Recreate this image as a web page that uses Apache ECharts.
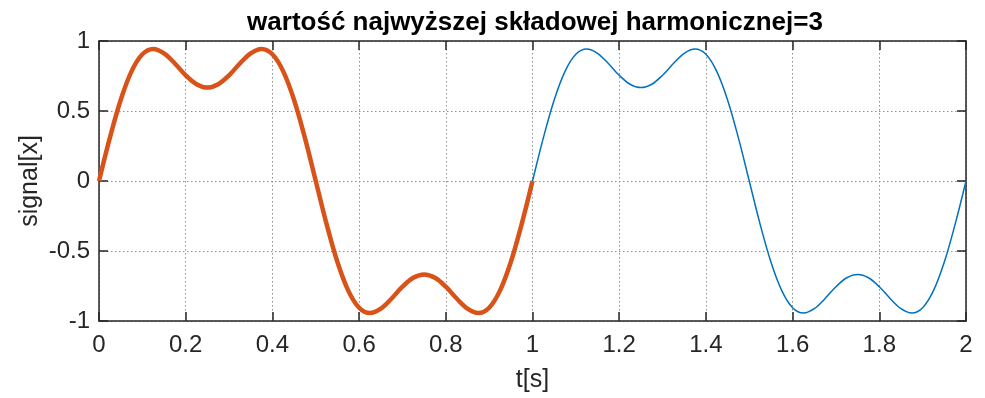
<!DOCTYPE html>
<html><head><meta charset="utf-8">
<script src="https://cdn.jsdelivr.net/npm/echarts@6/dist/echarts.min.js"></script>
<style>html,body{margin:0;padding:0;background:#fff}#c{width:985px;height:398px}</style>
</head><body><div id="c"></div>
<script>
var titleText = 'wartość najwyższej składowej harmonicznej=3';
var xLabel = 't[s]';
var yLabel = 'signal[x]';
var xTicks = [0,0.2,0.4,0.6,0.8,1,1.2,1.4,1.6,1.8,2];
var yTicks = [-1,-0.5,0,0.5,1];
var tFirst = [0,0.025,0.05,0.075,0.1,0.125,0.15,0.175,0.2,0.225,0.25,0.275,0.3,0.325,0.35,0.375,0.4,0.425,0.45,0.475,0.5,0.525,0.55,0.575,0.6,0.625,0.65,0.675,0.7,0.725,0.75,0.775,0.8,0.825,0.85,0.875,0.9,0.925,0.95,0.975,1];
var ySignalFirst = [0,0.308,0.579,0.783,0.905,0.943,0.912,0.839,0.755,0.691,0.667,0.691,0.755,0.839,0.912,0.943,0.905,0.783,0.579,0.308,0,-0.308,-0.579,-0.783,-0.905,-0.943,-0.912,-0.839,-0.755,-0.691,-0.667,-0.691,-0.755,-0.839,-0.912,-0.943,-0.905,-0.783,-0.579,-0.308,0];
var tFull = [0,0.025,0.05,0.075,0.1,0.125,0.15,0.175,0.2,0.225,0.25,0.275,0.3,0.325,0.35,0.375,0.4,0.425,0.45,0.475,0.5,0.525,0.55,0.575,0.6,0.625,0.65,0.675,0.7,0.725,0.75,0.775,0.8,0.825,0.85,0.875,0.9,0.925,0.95,0.975,1,1.025,1.05,1.075,1.1,1.125,1.15,1.175,1.2,1.225,1.25,1.275,1.3,1.325,1.35,1.375,1.4,1.425,1.45,1.475,1.5,1.525,1.55,1.575,1.6,1.625,1.65,1.675,1.7,1.725,1.75,1.775,1.8,1.825,1.85,1.875,1.9,1.925,1.95,1.975,2];
var ySignalFull = [0,0.308,0.579,0.783,0.905,0.943,0.912,0.839,0.755,0.691,0.667,0.691,0.755,0.839,0.912,0.943,0.905,0.783,0.579,0.308,0,-0.308,-0.579,-0.783,-0.905,-0.943,-0.912,-0.839,-0.755,-0.691,-0.667,-0.691,-0.755,-0.839,-0.912,-0.943,-0.905,-0.783,-0.579,-0.308,0,0.308,0.579,0.783,0.905,0.943,0.912,0.839,0.755,0.691,0.667,0.691,0.755,0.839,0.912,0.943,0.905,0.783,0.579,0.308,0,-0.308,-0.579,-0.783,-0.905,-0.943,-0.912,-0.839,-0.755,-0.691,-0.667,-0.691,-0.755,-0.839,-0.912,-0.943,-0.905,-0.783,-0.579,-0.308,0];

function pairs(xs, ys){ return xs.map(function(x,i){return [x, ys[i]];}); }
var FONT = '"Liberation Sans", Arial, sans-serif';
var axisCol = '#262626';
var gridLine = {show:true, lineStyle:{color:'#8f8f8f', width:1, type:[1.5,2.5]}};
var chart = echarts.init(document.getElementById('c'), null, {renderer:'canvas'});
chart.setOption({
  animation:false,
  backgroundColor:'#fff',
  title:{text:titleText, left:530, top:5, textAlign:'center',
    textStyle:{fontFamily:FONT, fontWeight:'bold', fontSize:26, color:'#000'}},
  grid:{left:99, right:19, top:41, bottom:76, containLabel:false},
  xAxis:[
    {type:'value', min:0, max:2, interval:0.2, position:'bottom',
     name:xLabel, nameLocation:'middle', nameGap:47, nameMoveOverlap:false,
     nameTextStyle:{fontFamily:FONT, fontSize:25, color:axisCol},
     axisLine:{show:true, onZero:false, lineStyle:{color:axisCol, width:1.5}},
     axisTick:{show:true, inside:true, length:9, lineStyle:{color:axisCol, width:1.5}},
     axisLabel:{fontFamily:FONT, fontSize:24, color:axisCol, margin:12,
       formatter:function(v){var r=Math.round(v*10)/10; return xTicks.indexOf(r)>=0 ? String(r) : '';}},
     splitLine:gridLine},
    {type:'value', min:0, max:2, interval:0.2, position:'top',
     axisLine:{show:true, onZero:false, lineStyle:{color:axisCol, width:1.5}},
     axisTick:{show:true, inside:true, length:9, lineStyle:{color:axisCol, width:1.5}},
     axisLabel:{show:false}, splitLine:{show:false}}
  ],
  yAxis:[
    {type:'value', min:-1, max:1, interval:0.5, position:'left',
     name:yLabel, nameLocation:'middle', nameGap:56, nameRotate:90, nameMoveOverlap:false,
     nameTextStyle:{fontFamily:FONT, fontSize:25, color:axisCol},
     axisLine:{show:true, onZero:false, lineStyle:{color:axisCol, width:1.5}},
     axisTick:{show:true, inside:true, length:9, lineStyle:{color:axisCol, width:1.5}},
     axisLabel:{fontFamily:FONT, fontSize:24, color:axisCol, margin:9,
       formatter:function(v){return yTicks.indexOf(v)>=0 ? String(v) : '';}},
     splitLine:gridLine},
    {type:'value', min:-1, max:1, interval:0.5, position:'right',
     axisLine:{show:true, onZero:false, lineStyle:{color:axisCol, width:1.5}},
     axisTick:{show:true, inside:true, length:9, lineStyle:{color:axisCol, width:1.5}},
     axisLabel:{show:false}, splitLine:{show:false}}
  ],
  series:[
    {type:'line', data:pairs(tFull, ySignalFull), smooth:0.35, showSymbol:false,
     lineStyle:{color:'#0072BD', width:1.5}, z:2},
    {type:'line', data:pairs(tFirst, ySignalFirst), smooth:0.35, showSymbol:false,
     lineStyle:{color:'#D95319', width:4.5}, z:3}
  ]
});
</script>
</body></html>
